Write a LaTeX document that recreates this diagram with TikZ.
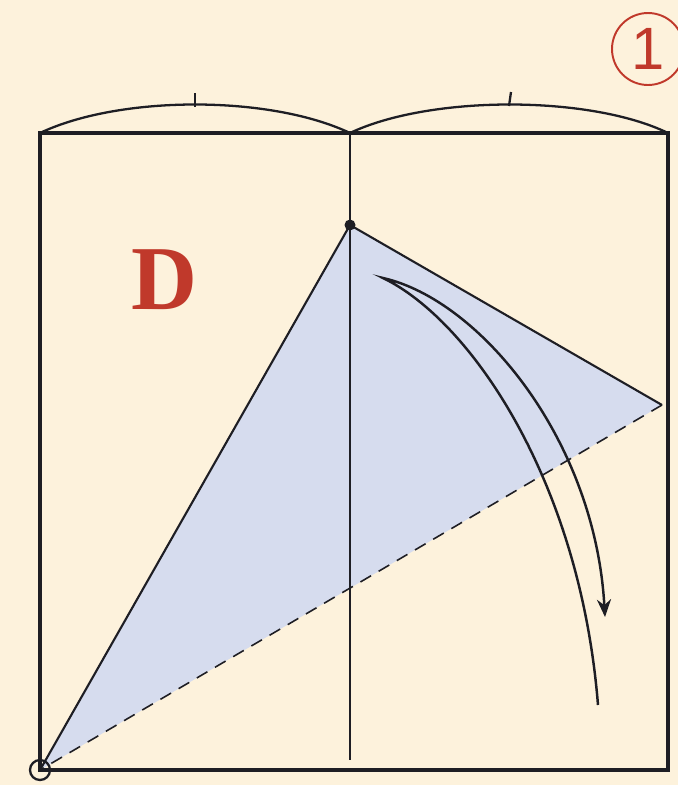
\documentclass[tikz,border=0pt]{standalone}
\usepackage{fontspec}
\setmainfont{Liberation Serif}
\newfontfamily\digitfont{Liberation Sans}
\usepackage{xcolor}
\usetikzlibrary{arrows.meta}
\definecolor{paper}{HTML}{FDF2DC}
\definecolor{flapfill}{HTML}{D6DCEE}
\definecolor{inkred}{HTML}{C0392B}
\definecolor{ink}{HTML}{1E1E24}
\tikzset{
  edge/.style={draw=ink, line width=2.6pt},
  crease/.style={draw=ink, line width=0.8pt},
  fold/.style={draw=ink, line width=1.2pt},
  valley/.style={draw=ink, line width=0.9pt, dash pattern=on 7pt off 5pt},
  measure/.style={draw=ink, line width=1.3pt},
  turn/.style={draw=ink, line width=1.4pt, -{Stealth[length=10pt,width=8pt]}},
  letter/.style={text=inkred, font=\fontsize{52}{52}\selectfont\bfseries},
  stepnum/.style={circle, draw=inkred, line width=1.1pt, text=inkred, minimum size=1.44cm, inner sep=0pt, font=\digitfont\fontsize{34}{34}\selectfont}
}
\begin{document}
\begin{tikzpicture}[x=0.02cm, y=-0.02cm]
  \fill[paper] (0,0) rectangle (678,785);
  \useasboundingbox (0,0) rectangle (678,785);

  % corners and points of the sheet
  \coordinate (tl) at (40,133);
  \coordinate (tr) at (668,133);
  \coordinate (bl) at (40,770);
  \coordinate (br) at (668,770);
  \coordinate (mt) at (350,133);
  \coordinate (mb) at (350,760);
  \coordinate (apex) at (350,225);
  \coordinate (rp) at (662,405);

  % folded flap
  \fill[flapfill] (bl) -- (apex) -- (rp) -- cycle;
  \draw[crease] (mt) -- (mb);
  \draw[fold] (bl) -- (apex) -- (rp);
  \draw[valley] (rp) -- (bl);
  \fill[ink] (apex) circle (5.5);

  % sheet outline
  \draw[edge] (tl) -- (tr) -- (br) -- (bl) -- cycle;
  \draw[ink, line width=1.3pt] (bl) circle (10);

  % halves marked equal
  \draw[measure] (tl) .. controls (120,95) and (270,95) .. (mt);
  \draw[measure] (mt) .. controls (430,95) and (590,95) .. (tr);
  \draw[measure] (195,93) -- (195,107);
  \draw[measure] (511,92) -- (509,106);

  % fold-over arrow
  \coordinate (tail) at (598,705);
  \coordinate (bend) at (383,278);
  \coordinate (tip) at (605,617);
  \draw[turn] (tail) .. controls (580,480) and (470,320) .. (bend)
              .. controls (480,300) and (595,440) .. (tip);

  \node[letter] (lbl) at (164,280) {D};
  \node[stepnum] (num) at (648,49) {1};
\end{tikzpicture}
\end{document}
